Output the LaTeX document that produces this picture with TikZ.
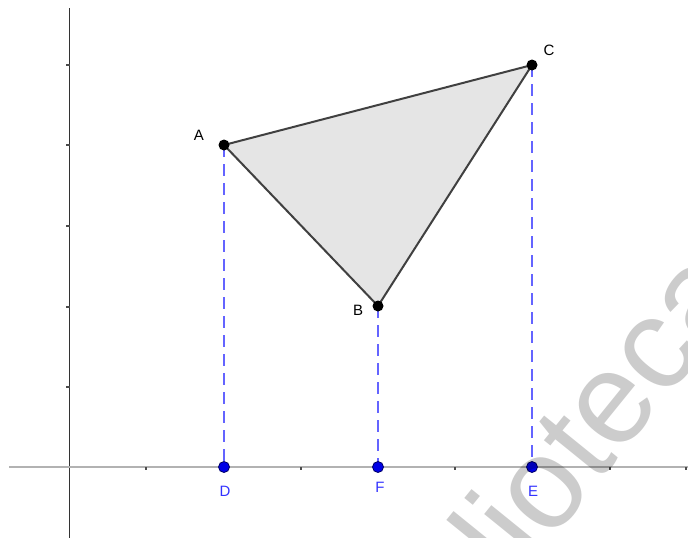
\documentclass[tikz,border=0pt]{standalone}
\usepackage{fontspec}
\setmainfont{Liberation Sans}
\definecolor{projblue}{RGB}{100,100,255}
\definecolor{lblblue}{RGB}{50,50,255}
\definecolor{ptblue}{RGB}{0,0,230}
\begin{document}
\begin{tikzpicture}[x=1pt,y=-1pt,
  pt/.style={circle,fill=black,inner sep=0pt,minimum size=11pt},
  bpt/.style={circle,fill=ptblue,draw=black!60!blue,line width=0.8pt,inner sep=0pt,minimum size=11pt},
  lbl/.style={font=\fontsize{15}{18}\selectfont,inner sep=0pt},
  blbl/.style={lbl,text=lblblue},
  proj/.style={dash pattern=on 12pt off 7pt,line width=1.8pt,draw=projblue},
  edge/.style={line width=2pt,draw=black!75,line join=round},
  tick/.style={line width=1.2pt,draw=black!70}]
\useasboundingbox (0,0) rectangle (688,538);
% axes
\draw[line width=1.5pt,draw=black!80] (69.5,8) -- (69.5,538);
\draw[line width=2pt,draw=black!30] (9,467) -- (688,467);
\foreach \y in {65,145,226,307,387} \draw[tick] (66,\y) -- (69.5,\y);
\foreach \x in {146,301,455,610,686} \draw[tick] (\x,467) -- (\x,470);
% points
\coordinate (A) at (224,145);
\coordinate (B) at (378,306);
\coordinate (C) at (532,65);
\coordinate (D) at (224,467);
\coordinate (F) at (378,467);
\coordinate (E) at (532,467);
\fill[black!10] (A) -- (B) -- (C) -- cycle;
\draw[edge] (A) -- (B) -- (C) -- cycle;
\draw[proj] (A) -- (D);
\draw[proj] (B) -- (F);
\draw[proj] (C) -- (E);
\node[pt] (pA) at (A) {};
\node[pt] (pB) at (B) {};
\node[pt] (pC) at (C) {};
\node[bpt] (pD) at (D) {};
\node[bpt] (pF) at (F) {};
\node[bpt] (pE) at (E) {};
\node[lbl] (lA) at (199,135) {A};
\node[lbl] (lB) at (358,310) {B};
\node[lbl] (lC) at (549,50) {C};
\node[blbl] (lD) at (225,491) {D};
\node[blbl] (lF) at (380,487) {F};
\node[blbl] (lE) at (533,491) {E};
% watermark
\begin{scope}
\clip (0,0) rectangle (688,538);
\node[rotate=51,anchor=base west,inner sep=0pt,text=black,text opacity=0.2,font=\fontsize{130}{130}\selectfont] (wm) at (396,733) {Biblioteca};
\end{scope}
\end{tikzpicture}
\end{document}
